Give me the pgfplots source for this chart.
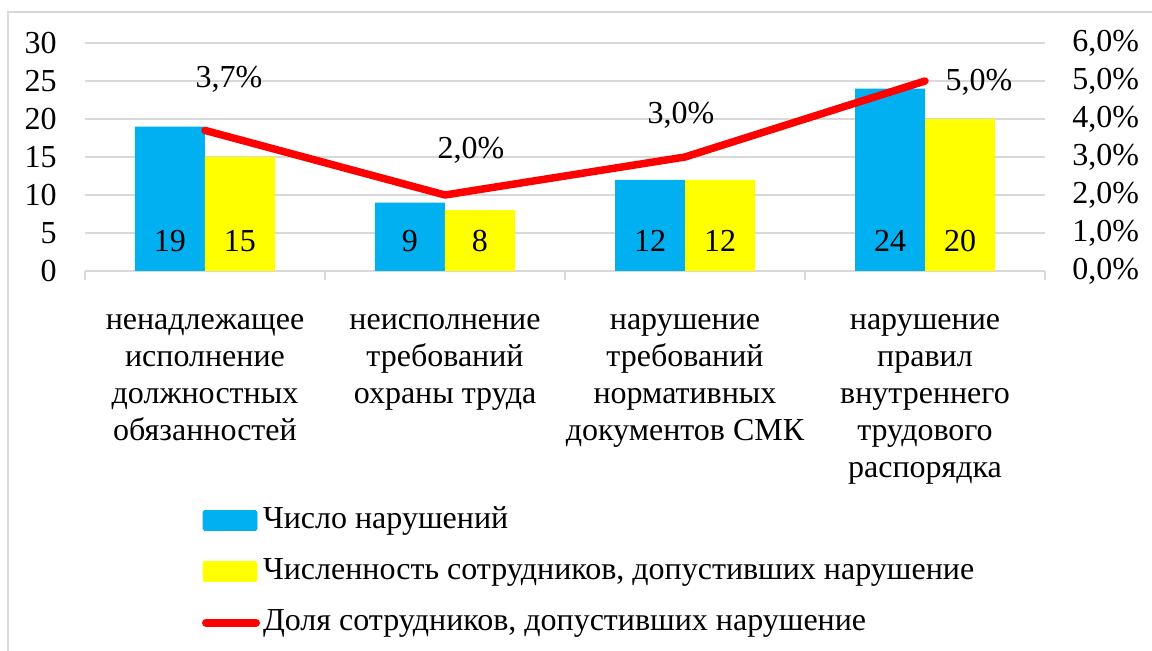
\documentclass[border=0pt]{standalone}
\usepackage{fontspec}
\setmainfont{Liberation Serif}
\usepackage{pgfplots}
\usepackage{pgfplotstable}
\pgfplotsset{compat=1.18}
\definecolor{cblue}{HTML}{00B0F0}
\definecolor{cyellow}{HTML}{FFFF00}
\definecolor{cred}{HTML}{FF0000}
\definecolor{cgrid}{HTML}{D9D9D9}
\newcommand\cf{\fontsize{16}{18.6}\selectfont}
\pgfplotstableread{
x y dx dy
0 3.7 12 21.5
1 2.0 13 18
2 3.0 -2 17
3 5.0 27 -4.5
}\sharetable
\begin{document}
\begin{tikzpicture}
\path[use as bounding box] (-42.5pt,-190pt) rectangle (533.5pt,135.5pt);
\draw[cgrid, line width=0.75pt] (-38.5pt,-200pt) -- (-38.5pt,129.5pt) -- (540pt,129.5pt);
\begin{axis}[
  scale only axis, width=480pt, height=114pt,
  at={(0pt,0pt)}, anchor=south west,
  xmin=-0.5, xmax=3.5, ymin=0, ymax=30,
  axis x line*=bottom, axis y line*=left,
  y axis line style={draw=none},
  x axis line style={draw=cgrid, line width=0.75pt},
  ytick={0,5,...,30},
  yticklabels={0,5,10,15,20,25,30},
  ytick style={draw=none},
  yticklabel style={font=\cf, anchor=east, inner sep=0pt, xshift=-14pt},
  ymajorgrids, grid style={draw=cgrid, line width=0.75pt},
  xtick={0,1,2,3},
  xticklabels={{ненадлежащее\\исполнение\\должностных\\обязанностей},{неисполнение\\требований\\охраны труда},{нарушение\\требований\\нормативных\\документов СМК},{нарушение\\правил\\внутреннего\\трудового\\распорядка}},
  xtick style={draw=none},
  xticklabel style={font=\cf, align=center, anchor=north, inner sep=0pt, yshift=-17pt},
  extra x ticks={-0.5,0.5,1.5,2.5,3.5},
  extra x tick labels={},
  extra x tick style={tick align=outside, major tick length=4.5pt, xtick style={draw=cgrid, line width=0.75pt}},
  ybar=0pt, bar width=35pt,
  clip=false,
  /pgf/number format/assume math mode=true,
]
\addplot[fill=cblue, draw=none, bar shift=-17.5pt, point meta=y,
  nodes near coords={\pgfmathprintnumber[assume math mode=true]{\pgfplotspointmeta}},
  visualization depends on={y \as \rawy},
  every node near coord/.append style={shift={(axis direction cs:0,-\rawy)}, anchor=base, yshift=9.5pt, font=\cf, inner sep=0pt, text=black}]
  coordinates {(0,19) (1,9) (2,12) (3,24)};
\addplot[fill=cyellow, draw=none, bar shift=17.5pt, point meta=y,
  nodes near coords={\pgfmathprintnumber[assume math mode=true]{\pgfplotspointmeta}},
  visualization depends on={y \as \rawy},
  every node near coord/.append style={shift={(axis direction cs:0,-\rawy)}, anchor=base, yshift=9.5pt, font=\cf, inner sep=0pt, text=black}]
  coordinates {(0,15) (1,8) (2,12) (3,20)};
\end{axis}
\begin{axis}[
  scale only axis, width=480pt, height=114pt,
  at={(0pt,0pt)}, anchor=south west,
  xmin=-0.5, xmax=3.5, ymin=0, ymax=6,
  axis x line=none, axis y line*=right,
  y axis line style={draw=none},
  ytick={0,1,2,3,4,5,6},
  yticklabels={{0,0\%},{1,0\%},{2,0\%},{3,0\%},{4,0\%},{5,0\%},{6,0\%}},
  ytick style={draw=none},
  yticklabel style={font=\cf, anchor=west, inner sep=0pt, xshift=13.5pt},
  clip=false,
  /pgf/number format/assume math mode=true,
  legend style={at={(axis description cs:0.1219,-1.031)}, anchor=north west, draw=none, fill=none, inner sep=0pt, outer sep=0pt, font=\cf, row sep=11pt, nodes={inner sep=0pt, text height=11pt, text depth=3.5pt}, /tikz/every odd column/.append style={column sep=1.5pt}},
  legend cell align=left,
]
\addlegendimage{legend image code/.code={\fill[cblue, rounded corners=0.8pt] (0pt,-5pt) rectangle (27pt,5pt);}}
\addlegendentry{Число нарушений}
\addlegendimage{legend image code/.code={\fill[cyellow, rounded corners=0.8pt] (0pt,-5pt) rectangle (27pt,5pt);}}
\addlegendentry{Численность сотрудников, допустивших нарушение}
\addplot[cred, line width=3.75pt, line cap=round, line join=round, mark=none, point meta=y,
  nodes near coords={\pgfmathprintnumber[fixed, fixed zerofill, precision=1, use comma, assume math mode=true]{\pgfplotspointmeta}\%},
  visualization depends on={\thisrow{dx} \as \dx},
  visualization depends on={\thisrow{dy} \as \dy},
  every node near coord/.style={anchor=base, xshift=\dx pt, yshift=\dy pt, font=\cf, text=black, inner sep=0pt},
  legend image code/.code={\draw[cred, line width=4pt, line cap=round] (1.5pt,0pt) -- (26.5pt,0pt);}
] table[x=x, y=y] {\sharetable};
\addlegendentry{Доля сотрудников, допустивших нарушение}
\end{axis}
\end{tikzpicture}
\end{document}
